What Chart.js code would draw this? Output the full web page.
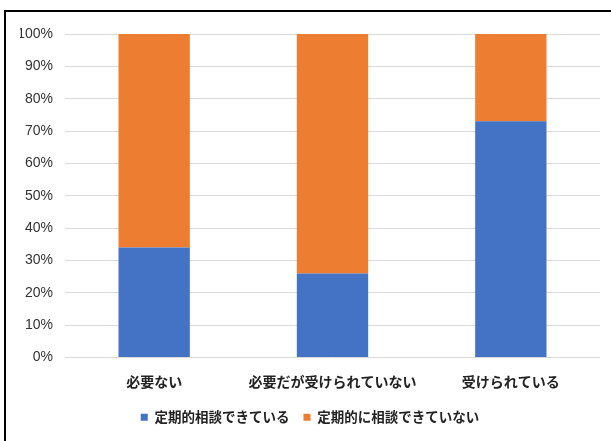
<!DOCTYPE html>
<html><head><meta charset="utf-8">
<script src="https://cdn.jsdelivr.net/npm/chart.js@4/dist/chart.umd.min.js"></script>
<style>html,body{margin:0;padding:0;background:#fff;}#wrap{position:relative;width:611px;height:441px;}</style>
</head><body><div id="wrap"><canvas id="c" width="611" height="441"></canvas></div>
<script>
const categories = ['必要ない', '必要だが受けられていない', '受けられている'];
const seriesNames = ['定期的相談できている', '定期的に相談できていない'];
const consulted = [34, 26, 73];
const notConsulted = [66, 74, 27];
const yTicks = [0,10,20,30,40,50,60,70,80,90,100];

const framePlugin = {
  id: 'frame',
  afterDraw(chart) {
    const ctx = chart.ctx;
    ctx.save();
    ctx.strokeStyle = '#000';
    ctx.lineWidth = 2;
    ctx.beginPath();
    ctx.moveTo(5, 441);
    ctx.lineTo(5, 11);
    ctx.lineTo(611, 11);
    ctx.stroke();
    ctx.restore();
  }
};
const JP = '"Noto Sans CJK JP", sans-serif';
new Chart(document.getElementById('c'), {
  type: 'bar',
  data: {
    labels: categories,
    datasets: [
      { label: seriesNames[0], data: consulted, backgroundColor: '#4472C4', categoryPercentage: 0.8, barPercentage: 0.5 },
      { label: seriesNames[1], data: notConsulted, backgroundColor: '#ED7D31', categoryPercentage: 0.8, barPercentage: 0.5 }
    ]
  },
  options: {
    responsive: false,
    animation: false,
    devicePixelRatio: 1,
    layout: { padding: { left: 20, right: 11, top: 34, bottom: 7 } },
    plugins: {
      legend: {
        position: 'bottom',
        labels: { boxWidth: 7, boxHeight: 7, padding: 14, color: '#222', font: { family: JP, size: 13.5, weight: 'bold' } }
      },
      tooltip: { enabled: false }
    },
    scales: {
      x: {
        stacked: true,
        grid: { display: false },
        border: { display: false },
        ticks: { color: '#222', padding: 8, font: { family: JP, size: 14, weight: 'bold' } },
        afterFit(s) { s.height = 39; }
      },
      y: {
        stacked: true,
        min: 0, max: 100,
        afterBuildTicks(s) { s.ticks = yTicks.map(v => ({ value: v })); },
        grid: { color: '#d9d9d9', drawTicks: false },
        border: { display: false },
        ticks: { color: '#333', padding: 12, callback: v => v + '%', font: { family: '"Liberation Sans", Arial, sans-serif', size: 14 } },
        afterFit(s) { s.width = 45; }
      }
    }
  },
  plugins: [framePlugin]
});
</script></body></html>
